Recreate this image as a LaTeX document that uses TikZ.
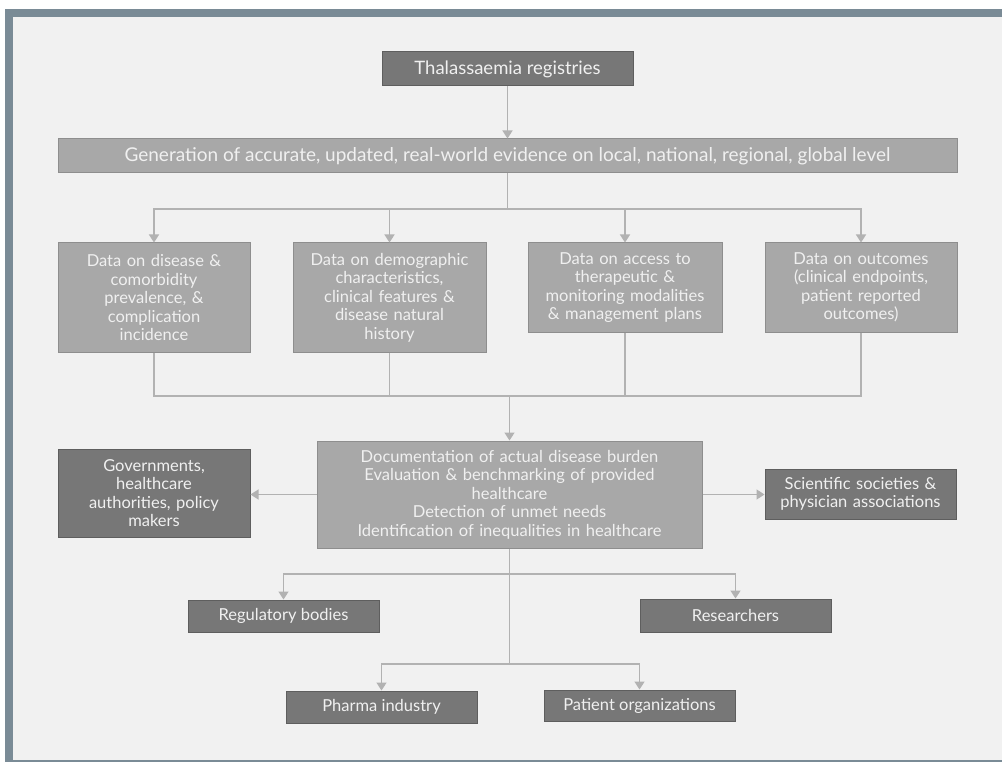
\documentclass[tikz,border=0pt]{standalone}
\usepackage{fontspec}
\setmainfont{Lato}
\usetikzlibrary{arrows.meta}
\definecolor{frameblue}{HTML}{7A8B96}
\definecolor{bgc}{HTML}{F1F1F1}
\definecolor{midbox}{HTML}{A8A8A8}
\definecolor{midline}{HTML}{8E8E8E}
\definecolor{darkbox}{HTML}{777777}
\definecolor{darkline}{HTML}{5E5E5E}
\definecolor{conn}{HTML}{B2B2B2}
\definecolor{txt}{HTML}{F0F0F0}
\tikzset{
  box/.style={draw, line width=1pt, inner sep=2pt, align=center, text=txt, font=\fontsize{16.5}{18.5}\selectfont},
  midb/.style={box, fill=midbox, draw=midline},
  darkb/.style={box, fill=darkbox, draw=darkline},
  wire/.style={draw=conn, line width=1.6pt},
  arr/.style={wire, -{Triangle[width=10pt,length=8pt]}},
}
\begin{document}
\begin{tikzpicture}[x=1pt,y=-1pt]
\useasboundingbox (0,0) rectangle (1002,762);
\fill[white] (0,0) rectangle (1002,762);
\fill[frameblue] (5,9) rectangle (1002,762);
\fill[bgc] (13,17) rectangle (1002,760);

\node[darkb, minimum width=251pt, minimum height=34pt, font=\fontsize{18.5}{20}\selectfont] (thal) at (507.5,69) {Thalassaemia registries};
\node[midb, minimum width=899pt, minimum height=34pt, font=\fontsize{19}{20}\selectfont] (gen) at (507.5,156) {Generation of accurate, updated, real-world evidence on local, national, regional, global level};

\node[midb, minimum width=192pt, minimum height=109pt, text width=186pt] (d1) at (154,297.5) {Data on disease \&\\comorbidity\\prevalence, \&\\complication\\incidence};
\node[midb, minimum width=193pt, minimum height=109pt, text width=186pt] (d2) at (389.5,297.5) {Data on demographic\\characteristics,\\clinical features \&\\disease natural\\history};
\node[midb, minimum width=194pt, minimum height=89pt, text width=188pt] (d3) at (625,287.5) {Data on access to\\therapeutic \&\\monitoring modalities\\\& management plans};
\node[midb, minimum width=192pt, minimum height=89pt, text width=186pt] (d4) at (861,287.5) {Data on outcomes\\(clinical endpoints,\\patient reported\\outcomes)};

\node[midb, minimum width=385pt, minimum height=107pt, text width=378pt] (cen) at (509.5,494.5) {Documentation of actual disease burden\\Evaluation \& benchmarking of provided\\healthcare\\Detection of unmet needs\\Identification of inequalities in healthcare};
\node[darkb, minimum width=192pt, minimum height=88pt, text width=186pt] (gov) at (154,493) {Governments,\\healthcare\\authorities, policy\\makers};
\node[darkb, minimum width=191pt, minimum height=50pt, text width=186pt] (sci) at (860.5,494) {Scientific societies \&\\physician associations};

\node[darkb, minimum width=191pt, minimum height=32pt] (reg) at (283.5,616) {Regulatory bodies};
\node[darkb, minimum width=191pt, minimum height=33pt] (res) at (735.5,615.5) {Researchers};
\node[darkb, minimum width=191pt, minimum height=32pt] (pha) at (381.5,707) {Pharma industry};
\node[darkb, minimum width=191pt, minimum height=31pt] (pat) at (639.5,705.5) {Patient organizations};

% connectors
\draw[arr] (thal.south) -- (gen.north);
\coordinate (j1) at (507.5,209);
\draw[wire] (gen.south) -- (j1);
\draw[arr] (j1) -| (d1.north);
\draw[arr] (j1) -| (d2.north);
\draw[arr] (j1) -| (d3.north);
\draw[arr] (j1) -| (d4.north);
\coordinate (j2) at (509.5,396);
\draw[wire] (d1.south) |- (j2);
\draw[wire] (d2.south) |- (j2);
\draw[wire] (d3.south) |- (j2);
\draw[wire] (d4.south) |- (j2);
\draw[arr] (j2) -- (cen.north);
\draw[arr] (cen.west) -- (cen.west -| gov.east);
\draw[arr] (cen.east) -- (cen.east -| sci.west);
\coordinate (j3) at (509.5,574);
\coordinate (j4) at (509.5,664);
\draw[wire] (cen.south) -- (j4);
\draw[arr] (j3) -| (reg.north);
\draw[arr] (j3) -| (res.north);
\draw[arr] (j4) -| (pha.north);
\draw[arr] (j4) -| (pat.north);
\end{tikzpicture}
\end{document}
